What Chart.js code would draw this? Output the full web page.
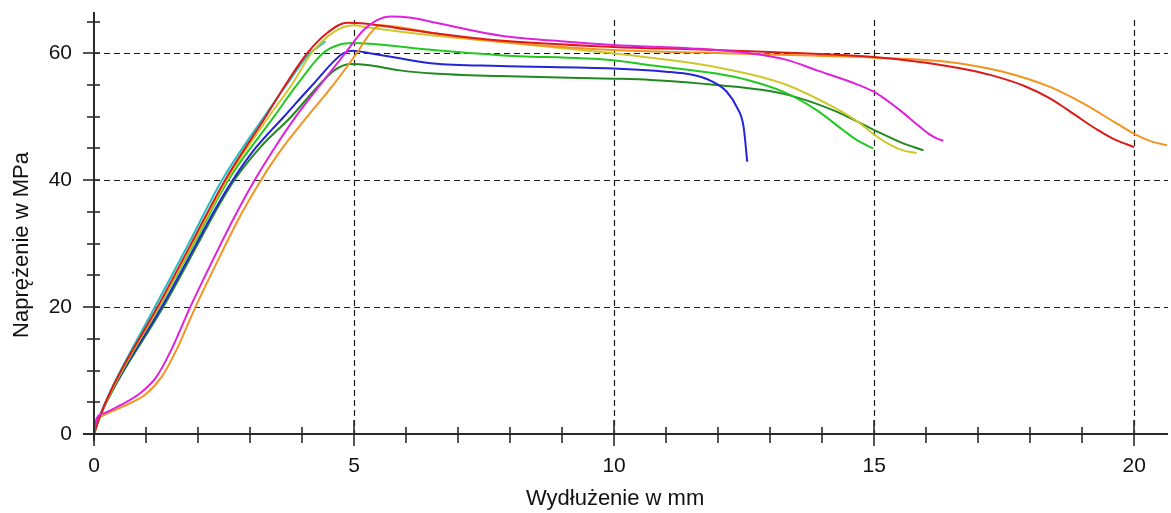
<!DOCTYPE html>
<html>
<head>
<meta charset="utf-8">
<script src="https://cdn.jsdelivr.net/npm/chart.js@4.4.1/dist/chart.umd.min.js"></script>
<style>
  html, body { margin: 0; padding: 0; background: #fff; }
  #wrap { width: 1171px; height: 513px; }
</style>
</head>
<body>
<div id="wrap"><canvas id="chart" width="1171" height="513"></canvas></div>
<script>
// wydłużenie [mm], naprężenie [MPa]
const curveCyan = [[0,0],[0.1,2.6],[0.36,7.5],[1.17,20],[1.82,30],[2.46,40],[3.27,50],[3.7,55],[4.1,59.5],[4.45,61.9]];
const curveRed = [[0,0],[0.1,2.5],[0.37,7.6],[1.22,20],[1.87,30],[2.52,40],[3.3,50],[3.68,55],[4.1,60],[4.5,63.3],[4.86,64.8],[5.2,64.7],[5.88,63.9],[6.5,63.2],[7.8,62.0],[9.98,61.0],[11.65,60.6],[13.0,60.2],[15.0,59.4],[16.0,58.5],[16.8,57.4],[17.4,56.2],[17.9,54.8],[18.38,52.9],[18.7,51.2],[19.02,49.4],[19.3,47.9],[19.6,46.5],[20.0,45.2]];
const curveYellow = [[0,0],[0.1,2.5],[0.38,7.5],[1.24,20],[1.9,30],[2.55,40],[3.36,50],[3.8,55],[4.18,60],[4.6,63.3],[5.0,64.4],[5.24,64.1],[6.52,62.8],[7.8,61.8],[9.98,60.0],[10.7,59.3],[11.97,57.8],[13.26,55.2],[14.22,51.5],[14.67,49.3],[15.0,47.2],[15.3,45.6],[15.55,44.7],[15.82,44.3]];
const curveLightGreen = [[0,0],[0.1,2.5],[0.38,7.5],[1.25,20],[1.92,30],[2.58,40],[3.46,50],[3.9,55],[4.4,60],[4.7,61.3],[4.98,61.6],[5.3,61.5],[6.52,60.5],[7.8,59.7],[9.98,58.9],[10.7,58.1],[11.97,56.8],[12.6,55.7],[13.26,53.9],[13.9,51.0],[14.4,47.9],[14.67,46.3],[14.98,45.0]];
const curveBlue = [[0,0],[0.1,2.5],[0.39,7.5],[1.3,20],[1.97,30],[2.3,35],[2.65,39.8],[3.1,45],[3.65,50],[4.2,55],[4.79,60],[4.98,60.4],[5.3,60.0],[5.88,59.2],[6.52,58.4],[7.8,58.0],[9.98,57.6],[11.0,57.1],[11.5,56.6],[11.85,55.7],[12.17,53.9],[12.36,51.5],[12.49,48.4],[12.56,42.9]];
const curveDarkGreen = [[0,0],[0.1,2.5],[0.4,7.5],[1.33,20],[2.0,30],[2.33,35],[2.68,39.8],[3.2,45.2],[3.79,50],[4.33,55],[4.62,57.3],[4.92,58.3],[5.3,58.1],[5.88,57.3],[6.52,56.8],[7.8,56.4],[9.98,56.0],[10.7,55.8],[11.97,55.0],[13.26,53.6],[14.22,51.0],[15.0,47.9],[15.5,46.0],[15.95,44.7]];
const curveMagenta = [[0,0],[0.05,2.4],[0.2,3.3],[0.5,4.5],[0.9,6.5],[1.2,9.0],[1.5,13.5],[1.85,20],[2.35,28.5],[2.7,34.2],[3.06,39.6],[3.45,44.8],[3.88,50],[4.35,55],[4.83,60],[5.2,63.8],[5.69,65.8],[6.1,65.6],[6.52,64.9],[7.8,62.8],[9.1,61.8],[9.98,61.3],[11.65,60.7],[12.6,60.0],[13.3,59.0],[13.9,57.3],[14.54,55.5],[15.0,53.9],[15.5,51.0],[15.82,48.8],[16.05,47.3],[16.2,46.6],[16.33,46.2]];
const curveOrange = [[0,0],[0.05,2.0],[0.2,3.0],[0.55,4.3],[1.0,6.3],[1.3,9.0],[1.6,13.5],[1.95,20],[2.45,28.5],[2.8,34.2],[3.18,39.6],[3.6,44.8],[4.1,50],[4.6,55],[5.05,60],[5.3,63],[5.5,64.4],[5.88,64.1],[6.5,63.2],[7.8,61.8],[9.98,60.5],[11.65,60.1],[13.0,59.8],[15.0,59.3],[16.46,58.6],[17.2,57.6],[17.74,56.5],[18.38,54.7],[19.02,52.1],[19.67,48.9],[20.0,47.3],[20.3,46.2],[20.63,45.5]];

const xLabelTicks = [0, 5, 10, 15, 20];
const yLabelTicks = [0, 20, 40, 60];
const xGridLines = [5, 10, 15, 20];
const yGridLines = [20, 40, 60];

const xTitle = 'Wydłużenie w mm';
const yTitle = 'Naprężenie w MPa';

// kolejność: pierwszy zestaw rysowany na wierzchu
const series = [
  { data: curveMagenta, color: '#dd22dd' },
  { data: curveRed, color: '#dd1a1a' },
  { data: curveOrange, color: '#f39422' },
  { data: curveYellow, color: '#cdc82e' },
  { data: curveLightGreen, color: '#22c822' },
  { data: curveBlue, color: '#2424d8' },
  { data: curveDarkGreen, color: '#208a20' },
  { data: curveCyan, color: '#22bdc4' },
];

const FONT = '"Liberation Sans", Arial, sans-serif';

// osie z podziałką + przerywana siatka + tytuły osi
const axesPlugin = {
  id: 'axesPlugin',
  beforeDatasetsDraw(chart) {
    const { ctx, chartArea: { left, right, top, bottom }, scales: { x, y } } = chart;
    ctx.save();
    ctx.strokeStyle = '#1a1a1a';
    ctx.lineWidth = 1.2;
    ctx.setLineDash([6, 4]);
    xGridLines.forEach(v => {
      const px = Math.round(x.getPixelForValue(v)) + 0.5;
      ctx.beginPath(); ctx.moveTo(px, top + 8); ctx.lineTo(px, bottom); ctx.stroke();
    });
    yGridLines.forEach(v => {
      const py = Math.round(y.getPixelForValue(v)) + 0.5;
      ctx.beginPath(); ctx.moveTo(left, py); ctx.lineTo(right, py); ctx.stroke();
    });
    ctx.restore();
  },
  afterDatasetsDraw(chart) {
    const { ctx, chartArea: { left, right, top, bottom }, scales: { x, y } } = chart;
    ctx.save();
    ctx.strokeStyle = '#2a2a2a';
    ctx.lineWidth = 2;
    // oś X
    ctx.beginPath(); ctx.moveTo(left - 11, bottom); ctx.lineTo(right, bottom); ctx.stroke();
    // oś Y
    ctx.beginPath(); ctx.moveTo(left, top); ctx.lineTo(left, bottom + 7); ctx.stroke();

    ctx.lineWidth = 1.6;
    for (let v = 0; v <= 20; v++) {
      const px = Math.round(x.getPixelForValue(v));
      const major = v % 5 === 0;
      ctx.beginPath();
      ctx.moveTo(px, bottom - (major ? 14 : 7));
      ctx.lineTo(px, bottom + (major ? 12 : 9));
      ctx.stroke();
    }
    for (let v = 0; v <= 65; v += 5) {
      const py = Math.round(y.getPixelForValue(v));
      const major = v % 20 === 0;
      ctx.beginPath();
      ctx.moveTo(left - (major ? 11 : 7), py);
      ctx.lineTo(left + 6, py);
      ctx.stroke();
    }

    ctx.fillStyle = '#111';
    ctx.font = '22px ' + FONT;
    ctx.textAlign = 'center';
    ctx.textBaseline = 'alphabetic';
    ctx.fillText(xTitle, x.getPixelForValue(10) + 1, 505);
    ctx.translate(28, 245);
    ctx.rotate(-Math.PI / 2);
    ctx.fillText(yTitle, 0, 0);
    ctx.restore();
  }
};

new Chart(document.getElementById('chart'), {
  type: 'line',
  data: {
    datasets: series.map(s => ({
      data: s.data.map(p => ({ x: p[0], y: p[1] })),
      borderColor: s.color,
      borderWidth: 2,
      pointRadius: 0,
      fill: false,
      cubicInterpolationMode: 'monotone',
    })),
  },
  options: {
    responsive: false,
    animation: false,
    devicePixelRatio: 1,
    layout: { padding: { top: 12, right: 3, left: 0, bottom: 0 } },
    plugins: {
      legend: { display: false },
      tooltip: { enabled: false },
    },
    scales: {
      x: {
        type: 'linear',
        min: 0,
        max: 20.65,
        afterFit: s => { s.height = 79; s.paddingLeft = 0; s.paddingRight = 0; },
        afterBuildTicks: s => { s.ticks = xLabelTicks.map(v => ({ value: v })); },
        grid: { display: false, drawTicks: false },
        border: { display: false },
        ticks: { color: '#111', padding: 20, font: { family: FONT, size: 21 }, maxRotation: 0 },
      },
      y: {
        min: 0,
        max: 66.5,
        afterFit: s => { s.width = 94; s.paddingTop = 0; s.paddingBottom = 0; },
        afterBuildTicks: s => { s.ticks = yLabelTicks.map(v => ({ value: v })); },
        grid: { display: false, drawTicks: false },
        border: { display: false },
        ticks: { color: '#111', padding: 22, font: { family: FONT, size: 21 } },
      },
    },
  },
  plugins: [axesPlugin],
});
</script>
</body>
</html>
